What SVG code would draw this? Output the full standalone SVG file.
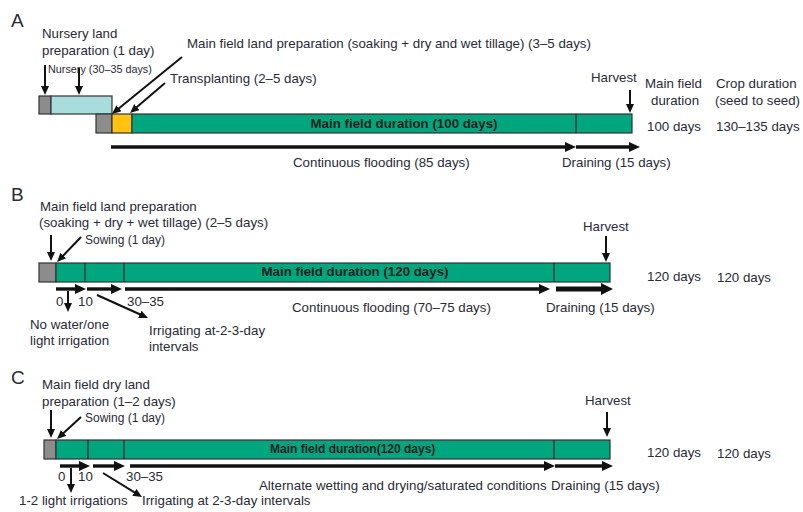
<svg xmlns="http://www.w3.org/2000/svg" width="803" height="512" viewBox="0 0 803 512">
<defs>
<style>
text{font-family:"Liberation Sans",Arial,sans-serif;font-size:13.3px;fill:#2a2a36}
.pl{font-size:19px}
.sm{font-size:10.8px}
.sw{font-size:12px}
.bd{font-weight:bold;font-size:13.3px;fill:#1e1e1e}
.bd2{font-weight:bold;font-size:12px;fill:#1e1e1e}
.bx{stroke:#333;stroke-width:1.2}
.g{fill:#8c8c8c}.gr{fill:#00a67e}.lb{fill:#a9dcdc}.ye{fill:#ffc20e}
.dv{stroke:#222;stroke-width:1.2}
.pt{stroke:#111;stroke-width:2;fill:none;marker-end:url(#a)}
.fl{stroke:#111;stroke-width:3.4;fill:none;marker-end:url(#b)}
.tk{stroke:#111;stroke-width:5;fill:none;marker-end:url(#c)}
.ln{stroke:#111;stroke-width:3.4;fill:none}
</style>
<marker id="a" markerUnits="userSpaceOnUse" viewBox="0 0 9 8" markerWidth="9" markerHeight="8" refX="3" refY="4" orient="auto"><path d="M0,0L9,4L0,8z" fill="#111"/></marker>
<marker id="b" markerUnits="userSpaceOnUse" viewBox="0 0 11 10" markerWidth="11" markerHeight="10" refX="2" refY="5" orient="auto"><path d="M0,0L11,5L0,10z" fill="#111"/></marker>
<marker id="c" markerUnits="userSpaceOnUse" viewBox="0 0 12 12" markerWidth="12" markerHeight="12" refX="2" refY="6" orient="auto"><path d="M0,0L12,6L0,12z" fill="#111"/></marker>
</defs>
<rect width="803" height="512" fill="#fff"/>

<!-- Panel A -->
<g id="panelA">
<text class="pl" x="11" y="27">A</text>
<g id="A-nursery-prep"><rect class="bx g" x="39" y="96" width="12" height="18"/><text x="42" y="38">Nursery land</text><text x="42" y="55">preparation (1 day)</text></g>
<g id="A-nursery"><rect class="bx lb" x="51" y="96" width="61" height="18"/><text class="sm" x="48" y="73">Nursery (30–35 days)</text></g>
<g id="A-mainprep"><rect class="bx g" x="96" y="114" width="16" height="19"/><text x="187" y="48">Main field land preparation (soaking + dry and wet tillage) (3–5 days)</text></g>
<g id="A-transplant"><rect class="bx ye" x="112" y="114" width="20" height="19"/><text x="170" y="83">Transplanting (2–5 days)</text></g>
<g id="A-main"><rect class="bx gr" x="132" y="114" width="500" height="19"/><line class="dv" x1="576" y1="114" x2="576" y2="133"/><text class="bd" x="404" y="128" text-anchor="middle">Main field duration (100 days)</text></g>
<g id="A-harvest"><text x="591" y="82">Harvest</text></g>
<g id="A-flood"><text x="293" y="167">Continuous flooding (85 days)</text></g>
<g id="A-drain"><text x="562" y="167">Draining (15 days)</text></g>
<g id="A-cols"><text x="645" y="88">Main field</text><text x="651" y="105">duration</text><text x="716" y="88">Crop duration</text><text x="715" y="105">(seed to seed)</text><text x="647" y="131">100 days</text><text x="716" y="131">130–135 days</text></g>
</g>

<!-- Panel B -->
<g id="panelB">
<text class="pl" x="11" y="201">B</text>
<g id="B-prep"><rect class="bx g" x="39" y="263" width="17" height="19"/><text x="40" y="211">Main field land preparation</text><text x="39" y="227">(soaking + dry + wet tillage) (2–5 days)</text></g>
<g id="B-sow"><text class="sw" x="85" y="244">Sowing (1 day)</text></g>
<g id="B-main"><rect class="bx gr" x="56" y="263" width="554" height="19"/><line class="dv" x1="85" y1="263" x2="85" y2="282"/><line class="dv" x1="124" y1="263" x2="124" y2="282"/><line class="dv" x1="554" y1="263" x2="554" y2="282"/><text class="bd" x="355" y="276" text-anchor="middle">Main field duration (120 days)</text></g>
<g id="B-ticks"><text x="56" y="306">0</text><text x="78" y="306">10</text><text x="127" y="306">30–35</text></g>
<g id="B-nowater"><text x="30" y="329">No water/one</text><text x="30" y="345">light irrigation</text></g>
<g id="B-irrig"><text x="149" y="335">Irrigating at-2-3-day</text><text x="149" y="351">intervals</text></g>
<g id="B-flood"><text x="292" y="312">Continuous flooding (70–75 days)</text></g>
<g id="B-drain"><text x="546" y="312">Draining (15 days)</text></g>
<g id="B-harvest"><text x="583" y="231">Harvest</text></g>
<g id="B-cols"><text x="647" y="281">120 days</text><text x="717" y="282">120 days</text></g>
</g>

<!-- Panel C -->
<g id="panelC">
<text class="pl" x="11" y="384">C</text>
<g id="C-prep"><rect class="bx g" x="44" y="440" width="12" height="19"/><text x="42" y="389">Main field dry land</text><text x="42" y="406">preparation (1–2 days)</text></g>
<g id="C-sow"><text class="sw" x="85" y="422">Sowing (1 day)</text></g>
<g id="C-main"><rect class="bx gr" x="56" y="440" width="554" height="19"/><line class="dv" x1="88" y1="440" x2="88" y2="459"/><line class="dv" x1="124" y1="440" x2="124" y2="459"/><line class="dv" x1="554" y1="440" x2="554" y2="459"/><text class="bd2" x="270" y="453">Main field duration(120 days)</text></g>
<g id="C-ticks"><text x="58" y="481">0</text><text x="78" y="481">10</text><text x="126" y="481">30–35</text></g>
<g id="C-light"><text x="19" y="505">1-2 light irrigations</text></g>
<g id="C-irrig"><text x="142" y="505">Irrigating at 2-3-day intervals</text></g>
<g id="C-awd"><text x="259" y="490">Alternate wetting and drying/saturated conditions</text></g>
<g id="C-drain"><text x="551" y="490">Draining (15 days)</text></g>
<g id="C-harvest"><text x="585" y="405">Harvest</text></g>
<g id="C-cols"><text x="647" y="457">120 days</text><text x="717" y="458">120 days</text></g>
</g>

<!-- Connectors -->
<g id="connectors">
<line class="pt" x1="45" y1="65" x2="45" y2="89"/>
<line class="pt" x1="79" y1="68" x2="79" y2="89"/>
<line class="pt" x1="182" y1="57" x2="116.6" y2="110.2"/>
<line class="pt" x1="165" y1="83" x2="134.6" y2="109.1"/>
<line class="pt" x1="630" y1="90" x2="630" y2="107"/>
<line class="fl" x1="111" y1="147" x2="567" y2="147"/>
<line class="fl" x1="576" y1="147" x2="631" y2="147"/>

<line class="pt" x1="51" y1="235" x2="51" y2="255"/>
<line class="pt" x1="81" y1="237" x2="61.2" y2="257.7"/>
<line class="pt" x1="606" y1="236" x2="606" y2="256"/>
<line class="fl" x1="56" y1="289" x2="77" y2="289"/>
<line class="fl" x1="87" y1="289" x2="113" y2="289"/>
<line class="fl" x1="125" y1="289" x2="541" y2="289"/>
<line class="tk" x1="556" y1="289" x2="603" y2="289"/>
<line class="pt" x1="68" y1="291" x2="68" y2="306"/>
<line class="pt" x1="97" y1="295" x2="142.5" y2="315.5"/>

<line class="pt" x1="51" y1="410" x2="51" y2="432"/>
<line class="pt" x1="81" y1="417" x2="61.4" y2="435"/>
<line class="pt" x1="607" y1="412" x2="607" y2="431"/>
<line class="fl" x1="60" y1="466" x2="81" y2="466"/>
<line class="fl" x1="93" y1="466" x2="116" y2="466"/>
<line class="fl" x1="130" y1="466" x2="546" y2="466"/>
<line class="fl" x1="555" y1="466" x2="604" y2="466"/>
<line class="pt" x1="71" y1="468" x2="71" y2="487"/>
<line class="pt" x1="103" y1="473" x2="136.9" y2="493.9"/>
</g>
</svg>
